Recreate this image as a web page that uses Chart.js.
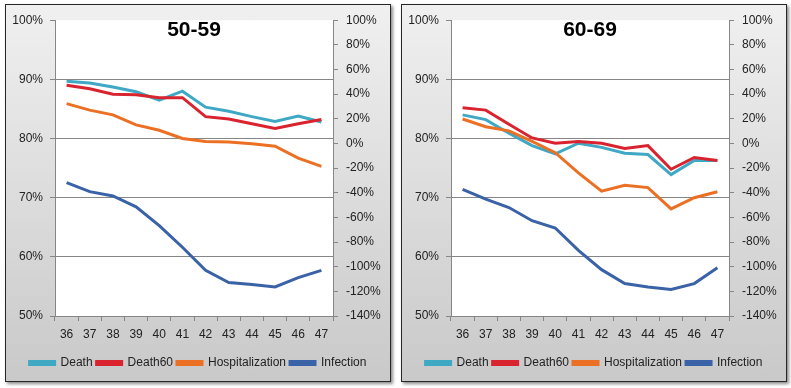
<!DOCTYPE html>
<html>
<head>
<meta charset="utf-8">
<script src="https://cdn.jsdelivr.net/npm/chart.js@4"></script>
<style>
  body { margin: 0; background: #fff; width: 791px; height: 388px; position: relative; overflow: hidden; }
  .panel {
    position: absolute; top: 4px; width: 384px; height: 376px;
    border: 1px solid #262626;
    background: linear-gradient(#f0f0f0, #c9c9c9);
    box-shadow: 2px 2px 3px rgba(0,0,0,0.45);
  }
  .panel canvas { position: absolute; left: 0; top: 0; }
</style>
</head>
<body>
<div class="panel" style="left:5px"><canvas id="c1" width="384" height="376"></canvas></div>
<div class="panel" style="left:401px"><canvas id="c2" width="384" height="376"></canvas></div>
<script>
// weeks
const weeks = ['36','37','38','39','40','41','42','43','44','45','46','47'];
const seriesNames = ['Death', 'Death60', 'Hospitalization', 'Infection'];

// 50-59 (left axis %, Infection on right axis %)
const death5059 = [89.7, 89.4, 88.7, 87.9, 86.5, 88.0, 85.3, 84.6, 83.7, 82.9, 83.8, 82.8];
const death60_5059 = [89.0, 88.4, 87.5, 87.4, 86.9, 86.9, 83.7, 83.3, 82.5, 81.7, 82.5, 83.2];
const hosp5059 = [85.9, 84.8, 84.0, 82.3, 81.4, 80.0, 79.5, 79.4, 79.1, 78.7, 76.7, 75.3];
const infection5059 = [-31.8, -39.1, -42.6, -51.4, -66.7, -84.2, -103, -112.9, -114.5, -116.4, -108.8, -103];

// 60-69
const death6069 = [84.0, 83.2, 80.9, 78.8, 77.4, 79.2, 78.5, 77.5, 77.3, 73.9, 76.3, 76.3];
const death60_6069 = [85.2, 84.8, 82.4, 80.1, 79.2, 79.5, 79.2, 78.3, 78.8, 74.8, 76.8, 76.3];
const hosp6069 = [83.3, 82.0, 81.3, 79.5, 77.6, 74.2, 71.1, 72.1, 71.7, 68.1, 70.0, 71.0];
const infection6069 = [-37.2, -45.2, -52, -62.7, -68.6, -86.8, -102.4, -113.7, -116.4, -118.5, -113.7, -100.8];

const leftTicks = [50, 60, 70, 80, 90, 100];
const rightTicks = [-140, -120, -100, -80, -60, -40, -20, 0, 20, 40, 60, 80, 100];

const colors = ['#3fa8c4', '#d9232e', '#ec7024', '#3a62a6'];
const axisColor = '#868686';
const textColor = '#222';
const font = { family: 'Liberation Sans', size: 12 };

const panelPlugin = {
  id: 'panel',
  beforeDraw(chart) {
    const a = chart.chartArea;
    chart.ctx.save();
    chart.ctx.fillStyle = '#fff';
    chart.ctx.fillRect(a.left, a.top, a.right - a.left, a.bottom - a.top);
    chart.ctx.restore();
  },
  afterDraw(chart, args, opts) {
    const a = chart.chartArea;
    const ctx = chart.ctx;
    ctx.save();
    ctx.font = 'bold 21px Liberation Sans';
    ctx.fillStyle = '#000';
    ctx.textAlign = 'center';
    ctx.textBaseline = 'middle';
    ctx.fillText(opts.text, (a.left + a.right) / 2, a.top + 10);
    ctx.restore();
  }
};

function makeChart(id, title, death, death60, hosp, infection) {
  const values = [death, death60, hosp, infection];
  new Chart(document.getElementById(id), {
    type: 'line',
    data: {
      labels: weeks,
      datasets: seriesNames.map((name, i) => ({
        label: name,
        data: values[i],
        yAxisID: i === 3 ? 'y1' : 'y',
        borderColor: colors[i],
        backgroundColor: colors[i],
        borderWidth: 3,
        pointRadius: 0,
        tension: 0,
        order: 4 - i
      }))
    },
    options: {
      responsive: false,
      animation: false,
      layout: { padding: { top: 13, left: 0, right: 0, bottom: 2 } },
      plugins: {
        panel: { text: title },
        tooltip: { enabled: false },
        legend: {
          position: 'bottom',
          labels: {
            font: font,
            color: textColor,
            boxWidth: 25,
            boxHeight: 3,
            padding: 4,
            sort: (a, b) => a.datasetIndex - b.datasetIndex
          }
        }
      },
      scales: {
        x: {
          offset: true,
          grid: { offset: true, drawOnChartArea: false, color: axisColor, tickLength: 5 },
          border: { color: axisColor },
          ticks: { font: font, color: textColor, padding: 6, maxRotation: 0 },
          afterFit(s) { s.height = 37; }
        },
        y: {
          position: 'left',
          min: 50, max: 100,
          afterBuildTicks(s) { s.ticks = leftTicks.map(v => ({ value: v })); },
          grid: {
            color: ctx => (ctx.tick && (ctx.tick.value === 100 || ctx.tick.value === 50)) ? 'rgba(0,0,0,0)' : axisColor,
            tickColor: axisColor,
            tickLength: 5
          },
          border: { color: axisColor },
          ticks: { font: font, color: textColor, padding: 7, callback: v => v + '%' },
          afterFit(s) { s.width = 49; }
        },
        y1: {
          position: 'right',
          min: -140, max: 100,
          afterBuildTicks(s) { s.ticks = rightTicks.map(v => ({ value: v })); },
          grid: { drawOnChartArea: false, color: axisColor, tickLength: 5 },
          border: { color: axisColor },
          ticks: { font: font, color: textColor, padding: 8, callback: v => v + '%' },
          afterFit(s) { s.width = 57; }
        }
      }
    },
    plugins: [panelPlugin]
  });
}

makeChart('c1', '50-59', death5059, death60_5059, hosp5059, infection5059);
makeChart('c2', '60-69', death6069, death60_6069, hosp6069, infection6069);
</script>
</body>
</html>
